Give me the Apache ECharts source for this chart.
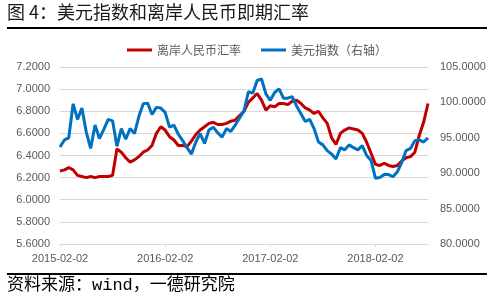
<!DOCTYPE html>
<html><head><meta charset="utf-8">
<script src="https://cdn.jsdelivr.net/npm/echarts@6/dist/echarts.min.js"></script>
<style>html,body{margin:0;padding:0;background:#fff}#c{width:500px;height:301px}</style>
</head><body><div id="c"></div>
<script>
var categories = [
'2015-02-02','2015-02-16','2015-03-02','2015-03-16','2015-04-02','2015-04-16','2015-05-02','2015-05-16','2015-06-02','2015-06-16','2015-07-02','2015-07-16','2015-08-02','2015-08-16','2015-09-02','2015-09-16','2015-10-02','2015-10-16','2015-11-02','2015-11-16','2015-12-02','2015-12-16','2016-01-02','2016-01-16',
'2016-02-02','2016-02-16','2016-03-02','2016-03-16','2016-04-02','2016-04-16','2016-05-02','2016-05-16','2016-06-02','2016-06-16','2016-07-02','2016-07-16','2016-08-02','2016-08-16','2016-09-02','2016-09-16','2016-10-02','2016-10-16','2016-11-02','2016-11-16','2016-12-02','2016-12-16','2017-01-02','2017-01-16',
'2017-02-02','2017-02-16','2017-03-02','2017-03-16','2017-04-02','2017-04-16','2017-05-02','2017-05-16','2017-06-02','2017-06-16','2017-07-02','2017-07-16','2017-08-02','2017-08-16','2017-09-02','2017-09-16','2017-10-02','2017-10-16','2017-11-02','2017-11-16','2017-12-02','2017-12-16','2018-01-02','2018-01-16',
'2018-02-02','2018-02-16','2018-03-02','2018-03-16','2018-04-02','2018-04-16','2018-05-02','2018-05-16','2018-06-02','2018-06-16','2018-07-02','2018-07-16','2018-08-02'
];
var cnhRate = [
6.26,6.27,6.29,6.27,6.22,6.21,6.20,6.21,6.20,6.21,6.21,6.21,6.22,6.46,6.43,6.38,6.34,6.36,6.39,6.43,6.45,6.49,6.60,6.66,
6.63,6.57,6.54,6.49,6.49,6.48,6.53,6.59,6.63,6.66,6.69,6.70,6.68,6.68,6.69,6.71,6.72,6.76,6.80,6.88,6.92,6.96,6.90,6.81,
6.85,6.84,6.87,6.87,6.86,6.89,6.90,6.87,6.83,6.81,6.78,6.80,6.74,6.69,6.56,6.50,6.60,6.63,6.65,6.64,6.63,6.60,6.52,6.42,
6.32,6.31,6.33,6.31,6.30,6.31,6.35,6.38,6.39,6.43,6.58,6.70,6.87
];
var dollarIndex = [
93.7,94.7,95.0,99.8,97.6,99.2,95.8,93.5,96.8,94.9,96.2,97.6,97.4,93.8,96.3,94.8,96.3,95.6,98.0,99.8,99.9,98.3,99.3,99.2,
98.6,96.5,96.8,95.5,94.6,93.6,92.7,94.4,95.6,94.2,96.1,96.5,95.7,95.1,96.3,95.9,96.8,97.8,98.8,101.5,101.3,103.1,103.3,101.2,
100.3,101.4,101.9,100.6,100.6,100.8,99.5,98.4,97.3,97.6,96.3,94.4,94.0,93.2,92.7,92.0,93.6,93.3,94.0,93.6,93.3,93.9,92.5,91.8,
89.3,89.4,89.8,89.8,89.5,90.2,91.5,93.2,93.5,94.6,94.7,94.4,95.0
];
var seriesNames = ['离岸人民币汇率', '美元指数（右轴）'];
var titleText = '图 4：美元指数和离岸人民币即期汇率';
var sourceText = '资料来源：wind，一德研究院';

var chart = echarts.init(document.getElementById('c'), null, {renderer: 'canvas'});
var labelColor = '#595959';
var gridColor = '#d9d9d9';
chart.setOption({
  animation: false,
  backgroundColor: '#ffffff',
  grid: {left: 60, right: 72, top: 67, bottom: 57, containLabel: false},
  legend: {
    left: 122, top: 39,
    icon: 'rect', itemWidth: 25, itemHeight: 3, itemGap: 20,
    textStyle: {color: labelColor, fontSize: 12, fontFamily: 'Noto Sans CJK SC'},
    data: seriesNames
  },
  xAxis: {
    type: 'category', data: categories, boundaryGap: false,
    axisLine: {lineStyle: {color: gridColor}},
    axisTick: {show: true, interval: 23, length: 3, lineStyle: {color: gridColor}},
    axisLabel: {interval: 23, color: labelColor, fontSize: 11, fontFamily: 'Liberation Sans', margin: 9},
    splitLine: {show: false}
  },
  yAxis: [{
    type: 'value', min: 5.6, max: 7.2, interval: 0.2,
    axisLine: {show: false}, axisTick: {show: false},
    axisLabel: {color: labelColor, fontSize: 11, fontFamily: 'Liberation Sans', margin: 10,
      formatter: function (v) { return v.toFixed(4); }},
    splitLine: {lineStyle: {color: gridColor, width: 1}}
  }, {
    type: 'value', min: 80, max: 105, interval: 5,
    axisLine: {show: false}, axisTick: {show: false},
    axisLabel: {color: labelColor, fontSize: 11, fontFamily: 'Liberation Sans', margin: 12,
      formatter: function (v) { return v.toFixed(4); }},
    splitLine: {show: false}
  }],
  series: [{
    name: seriesNames[0], type: 'line', yAxisIndex: 0, data: cnhRate,
    showSymbol: false, lineStyle: {color: '#C00000', width: 3}, itemStyle: {color: '#C00000'}
  }, {
    name: seriesNames[1], type: 'line', yAxisIndex: 1, data: dollarIndex,
    showSymbol: false, lineStyle: {color: '#0070C0', width: 3}, itemStyle: {color: '#0070C0'}
  }],
  graphic: [
    {type: 'text', left: 7, top: 3, style: {text: titleText, fill: '#1a1a1a', font: '18px "Noto Sans CJK SC"'}},
    {type: 'rect', shape: {x: 7, y: 27, width: 480, height: 2}, style: {fill: '#000'}},
    {type: 'rect', shape: {x: 7, y: 273, width: 480, height: 2}, style: {fill: '#000'}},
    {type: 'text', left: 7, top: 277, style: {text: sourceText, fill: '#000', font: '17px "Liberation Mono", "Noto Sans CJK SC"'}}
  ]
});
</script>
</body></html>
